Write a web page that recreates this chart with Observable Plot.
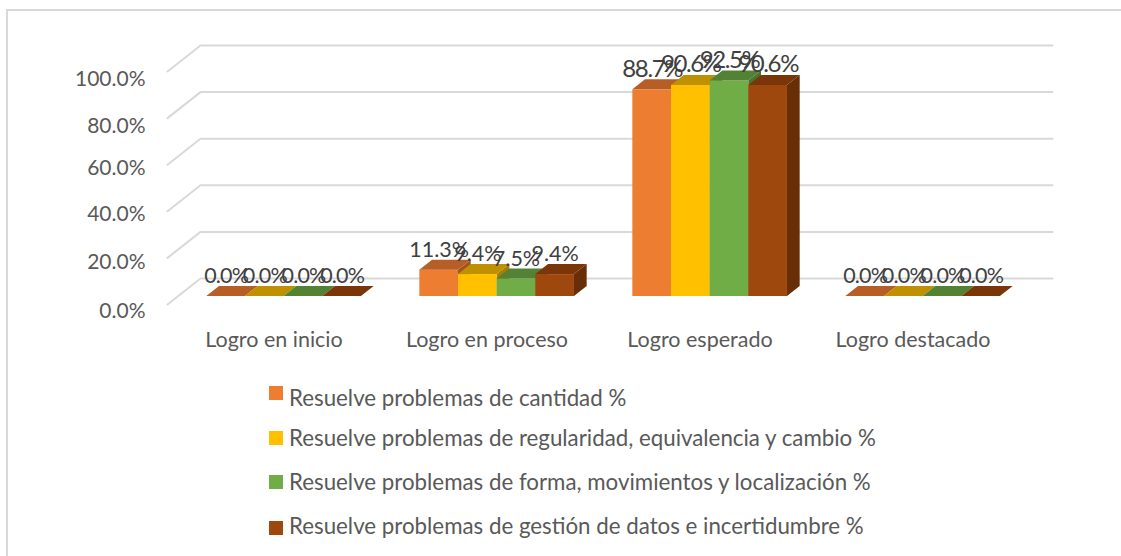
<!DOCTYPE html>
<html lang="es">
<head>
<meta charset="utf-8">
<script src="https://cdn.jsdelivr.net/npm/d3@7"></script>
<script src="https://cdn.jsdelivr.net/npm/@observablehq/plot@0.6"></script>
<style>
  html, body { margin: 0; background: #fff; }
  body { position: relative; width: 1121px; height: 556px; overflow: hidden; font-family: Lato, "Open Sans", sans-serif; color: #595959; }
  #frame { position: absolute; left: 6px; top: 9px; right: -4px; bottom: -4px; border: 2px solid #d9d9d9; }
  #chart { position: absolute; left: 0; top: 0; }
  #chart svg { background: transparent; overflow: visible; }
  .tight text { letter-spacing: -0.8px; }
  .tighter text { letter-spacing: -1.4px; }
  .row { position: absolute; left: 289px; font-size: 22.3px; line-height: 26px; white-space: nowrap; transform: translateY(-50%); }
  .swatch { position: absolute; left: 269px; width: 14px; height: 14px; }
</style>
</head>
<body>
<div id="frame"></div>
<div id="chart"></div>
<div id="legend"></div>
<script>
const categories = ["Logro en inicio", "Logro en proceso", "Logro esperado", "Logro destacado"];
const seriesNames = [
  "Resuelve problemas de cantidad %",
  "Resuelve problemas de regularidad, equivalencia y cambio %",
  "Resuelve problemas de forma, movimientos y localización %",
  "Resuelve problemas de gestión de datos e incertidumbre %"
];
const cantidad = [0, 11.3, 88.7, 0];
const regularidad = [0, 9.4, 90.6, 0];
const forma = [0, 7.5, 92.5, 0];
const gestion = [0, 9.4, 90.6, 0];
const yTicks = [0, 20, 40, 60, 80, 100];

const seriesValues = [cantidad, regularidad, forma, gestion];
const frontColors = ["#ED7D31", "#FFC000", "#70AD47", "#9E480E"];
const topColors = ["#B65E26", "#BF9000", "#548235", "#7A3609"];
const sideColors = ["#A35222", "#A87F00", "#4A7230", "#672E07"];

// Oblique 3-D projection: depth z runs 0 (front) to 1 (back wall)
const depthX = 33 / 213, depthY = 26 / 2.33;
const px = (x, z) => x + z * depthX;
const py = (v, z) => v + z * depthY;
const zFront = 0.3077, zBack = 0.6923;
const groupPad = 0.137, barWidth = (1 - 2 * groupPad) / 4;

const bars = seriesValues.map((values, s) => values.map((value, c) => {
  const x0 = c + groupPad + s * barWidth, x1 = x0 + barWidth;
  return {category: categories[c], c, value, x0, x1};
}));

const grid = yTicks.flatMap((v) => [
  {v, x: px(0, 0), y: py(v, 0)},
  {v, x: px(0, 1), y: py(v, 1)},
  {v, x: px(4, 1), y: py(v, 1)}
]);

const barMarks = bars.flatMap((rows, s) => {
  const top = rows.flatMap((d) => [
    {c: d.c, x1: px(d.x0, zFront), x2: px(d.x1, zFront), y: py(d.value, zFront)},
    {c: d.c, x1: px(d.x0, zBack), x2: px(d.x1, zBack), y: py(d.value, zBack)}
  ]);
  const side = rows.filter((d) => d.value > 0).flatMap((d) => [
    {c: d.c, x: px(d.x1, zFront), y1: py(0, zFront), y2: py(d.value, zFront)},
    {c: d.c, x: px(d.x1, zBack), y1: py(0, zBack), y2: py(d.value, zBack)}
  ]);
  return [
    Plot.area(side, {x1: "x", x2: "x", y1: "y1", y2: "y2", z: "c", fill: sideColors[s]}),
    Plot.rect(rows.filter((d) => d.value > 0), {
      x1: (d) => px(d.x0, zFront), x2: (d) => px(d.x1, zFront),
      y1: py(0, zFront), y2: (d) => py(d.value, zFront), fill: frontColors[s]
    }),
    Plot.area(top, {x1: "x1", x2: "x2", y1: "y", y2: "y", z: "c", fill: topColors[s]})
  ];
});

const labels = bars.flat().map((d) => ({
  text: d.value.toFixed(1) + "%",
  x: px((d.x0 + d.x1) / 2, zFront),
  y: py(d.value, zFront),
  c: d.c
}));
const labelOpts = {x: "x", y: "y", text: "text", fill: "#404040"};
// Per-tick vertical nudge of the axis labels, as they sit in the original
const tickDy = {0: 7, 20: 4, 40: 3, 60: 4, 80: 8, 100: 8};

const plot = Plot.plot({
  width: 1121,
  height: 370,
  marginLeft: 167,
  marginRight: 102,
  marginTop: 71,
  marginBottom: 66,
  x: {domain: [0, 4], axis: null},
  y: {domain: [0, 100], axis: null},
  style: {fontFamily: "Lato, 'Open Sans', sans-serif", background: "transparent", overflow: "visible"},
  marks: [
    Plot.line(grid, {x: "x", y: "y", z: "v", stroke: "#d9d9d9", strokeWidth: 2}),
    ...barMarks,
    Plot.text(labels.filter((d) => d.c === 0 || d.c === 3), {...labelOpts, dy: -20, fontSize: 21.5, className: "tight"}),
    Plot.text(labels.filter((d) => d.c === 1), {...labelOpts, dy: -20, fontSize: 21.5}),
    Plot.text(labels.filter((d) => d.c === 2), {...labelOpts, dy: -21, fontSize: 24, className: "tighter"}),
    ...yTicks.map((t) => Plot.text([t], {x: 0, y: (d) => d, text: (d) => d.toFixed(1) + "%", textAnchor: "end", dx: -22, dy: tickDy[t], fontSize: 21, fill: "#595959"})),
    Plot.text(categories, {x: (d, i) => i + 0.5, y: 0, text: (d) => d, dy: 36, fontSize: 21.5, fill: "#595959"})
  ]
});
document.getElementById("chart").append(plot);

const swatchTops = [386, 431, 475, 521];
const rowCenters = [398, 438, 482, 526];
const legend = document.getElementById("legend");
seriesNames.forEach((name, i) => {
  const sw = document.createElement("div");
  sw.className = "swatch";
  sw.style.top = swatchTops[i] + "px";
  sw.style.background = frontColors[i];
  const row = document.createElement("div");
  row.className = "row";
  row.style.top = rowCenters[i] + "px";
  row.textContent = name;
  legend.append(sw, row);
});
</script>
</body>
</html>
